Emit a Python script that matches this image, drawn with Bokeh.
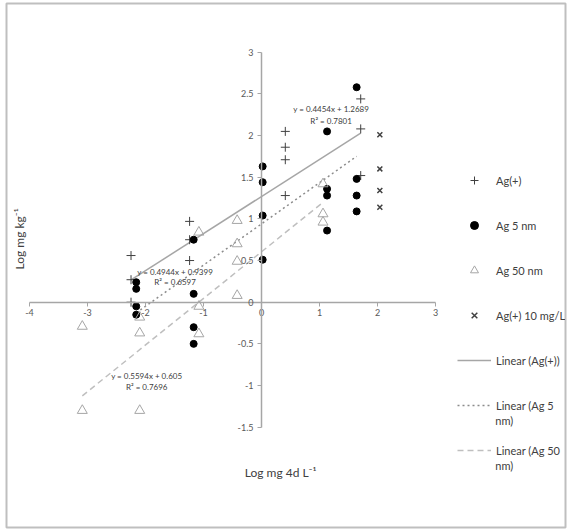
from bokeh.plotting import figure
from bokeh.models import Range1d, Label, Legend, LegendItem, FixedTicker
from bokeh.embed import file_html
from bokeh.resources import INLINE

FONT = "Lato"
TXT = "#404040"

# ---------------- data ----------------
ag_plus_x = [-2.25, -2.25, -2.25, -1.24, -1.24, -1.24, 0.41, 0.41, 0.41, 0.41, 1.71, 1.71, 1.71]
ag_plus_y = [0.56, 0.27, 0.00, 0.97, 0.75, 0.50, 2.05, 1.86, 1.71, 1.28, 2.44, 2.08, 1.52]

ag5_x = [-2.16, -2.16, -2.16, -2.16, -1.17, -1.17, -1.17, -1.17,
         0.02, 0.02, 0.02, 0.02, 1.13, 1.13, 1.13, 1.13, 1.64, 1.64, 1.64, 1.64]
ag5_y = [0.24, 0.16, -0.05, -0.15, 0.75, 0.10, -0.30, -0.50,
         1.63, 1.44, 1.04, 0.51, 2.05, 1.36, 1.28, 0.86, 2.58, 1.48, 1.28, 1.09]

ag50_x = [-3.09, -3.09, -2.10, -2.10, -2.10, -1.08, -1.08, -1.08,
          -0.42, -0.42, -0.42, -0.42, 1.06, 1.06, 1.06]
ag50_y = [-0.29, -1.30, -0.18, -0.37, -1.30, 0.84, -0.05, -0.38,
          0.98, 0.70, 0.49, 0.08, 1.42, 1.06, 0.96]

ag10_x = [2.04, 2.04, 2.04, 2.04]
ag10_y = [2.01, 1.60, 1.34, 1.14]

series_names = ["Ag(+)", "Ag 5 nm", "Ag 50 nm", "Ag(+) 10 mg/L"]
# legend labels of the fits, wrapped over two lines as in the picture
fit_names = [["Linear (Ag(+))"], ["Linear (Ag 5", "nm)"], ["Linear (Ag 50", "nm)"]]
fit_slope = [0.4454, 0.4944, 0.5594]
fit_intercept = [1.2689, 0.9399, 0.605]
fit_r2 = [0.7801, 0.6597, 0.7696]

x_ticks = [-4, -3, -2, -1, 0, 1, 2, 3]
x_tick_labels = ["-4", "-3", "-2", "-1", "0", "1", "2", "3"]
y_ticks = [-1.5, -1, -0.5, 0, 0.5, 1, 1.5, 2, 2.5, 3]
y_tick_labels = ["-1.5", "-1", "-0.5", "0", "0.5", "1", "1.5", "2", "2.5", "3"]

x_title = "Log mg 4d L\u207b\u00b9"
y_title = "Log mg kg\u207b\u00b9"

# ---------------- figure ----------------
p = figure(width=568, height=529, output_backend="svg", toolbar_location=None,
           x_range=Range1d(-4.397, 5.241), y_range=Range1d(-2.704, 3.585),
           min_border_left=6, min_border_right=3, min_border_top=3, min_border_bottom=2)
p.background_fill_color = "white"
p.border_fill_color = "white"
p.outline_line_color = "#bfbfbf"
p.outline_line_width = 2
p.grid.visible = False

for ax in (p.xaxis, p.yaxis):
    ax.fixed_location = 0
    ax.axis_line_color = "#a6a6a6"
    ax.axis_line_width = 1.5
    ax.major_tick_line_color = "#a6a6a6"
    ax.major_tick_out = 4
    ax.major_tick_in = 0
    ax.minor_tick_line_color = None
    ax.major_label_text_font = FONT
    ax.major_label_text_font_size = "9px"
    ax.major_label_text_color = "#595959"

p.xaxis.bounds = (x_ticks[0], x_ticks[-1])
p.yaxis.bounds = (y_ticks[0], y_ticks[-1])
p.xaxis.ticker = FixedTicker(ticks=x_ticks)
p.yaxis.ticker = FixedTicker(ticks=y_ticks)
p.xaxis.major_label_overrides = {t: l for t, l in zip(x_ticks, x_tick_labels)}
p.yaxis.major_label_overrides = {t: l for t, l in zip(y_ticks, y_tick_labels)}
p.xaxis.major_label_standoff = 3
p.yaxis.major_label_standoff = 4

# trend lines
fit_x = [ag_plus_x, ag5_x, ag50_x]
fit_styles = [("#a6a6a6", "solid"), ("#8c8c8c", "2 3"), ("#bfbfbf", "6 4")]
fit_renderers = []
for xs, m, b, (col, dash) in zip(fit_x, fit_slope, fit_intercept, fit_styles):
    lx = [min(xs), max(xs)]
    ly = [m * v + b for v in lx]
    fit_renderers.append(p.line(lx, ly, line_color=col, line_width=1.5, line_dash=dash))

# markers
r_plus = p.scatter(ag_plus_x, ag_plus_y, marker="cross", size=9, line_color=TXT, line_width=1)
r_5 = p.scatter(ag5_x, ag5_y, marker="circle", size=7, fill_color="black", line_color="black")
r_50 = p.scatter(ag50_x, ag50_y, marker="triangle", size=10, fill_alpha=0,
                 line_color="#a6a6a6", line_width=1)
r_10 = p.scatter(ag10_x, ag10_y, marker="x", size=7, line_color=TXT, line_width=1.5)

# equations
eq_pos = [(1.20, 2.32, 2.17), (-1.49, 0.36, 0.24), (-1.98, -0.89, -1.02)]
for (ex, ey1, ey2), m, b, r2 in zip(eq_pos, fit_slope, fit_intercept, fit_r2):
    p.add_layout(Label(x=ex, y=ey1, text=f"y = {m}x + {b}", text_align="center",
                       text_baseline="middle", text_font=FONT, text_font_size="8px",
                       text_color=TXT))
    p.add_layout(Label(x=ex, y=ey2, text=f"R\u00b2 = {r2}", text_align="center",
                       text_baseline="middle", text_font=FONT, text_font_size="8px",
                       text_color=TXT))

# axis titles
p.add_layout(Label(x=0.33, y=-2.04, text=x_title, text_align="center", text_baseline="middle",
                   text_font=FONT, text_font_size="12px", text_color=TXT))
p.add_layout(Label(x=-4.17, y=0.76, text=y_title, text_align="center", text_baseline="middle",
                   angle=1.5708, text_font=FONT, text_font_size="12px", text_color=TXT))

# legend
items = [LegendItem(label=n, renderers=[r]) for n, r in zip(series_names, [r_plus, r_5, r_50, r_10])]
items += [LegendItem(label=n[0], renderers=[r]) for n, r in zip(fit_names, fit_renderers)]
legend = Legend(items=items, location=(451, 67), padding=0, margin=0, spacing=25,
                glyph_width=34, glyph_height=20, label_height=20, label_standoff=5,
                label_text_font=FONT, label_text_font_size="11px", label_text_color=TXT,
                border_line_color=None, background_fill_alpha=0)
p.add_layout(legend)

# continuation lines of the wrapped legend labels
cont_y = [None, -1.414, -1.954]
for n, cy in zip(fit_names, cont_y):
    if len(n) > 1:
        p.add_layout(Label(x=4.03, y=cy, text=n[1], text_align="left", text_baseline="middle",
                           text_font=FONT, text_font_size="11px", text_color=TXT))

open("out.html", "w").write(file_html(p, INLINE))
